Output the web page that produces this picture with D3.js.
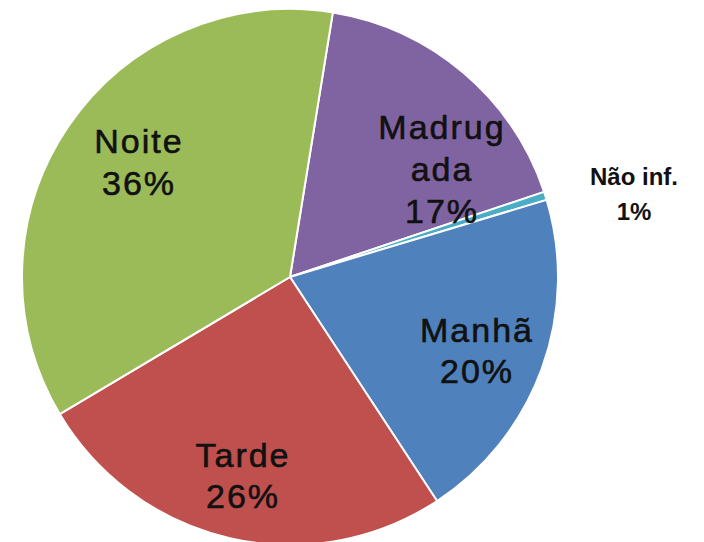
<!DOCTYPE html>
<html>
<head>
<meta charset="utf-8">
<script src="https://cdn.jsdelivr.net/npm/d3@7"></script>
<style>
  html, body { margin: 0; padding: 0; background: #ffffff; }
  svg { display: block; }
</style>
</head>
<body>
<div id="chart"></div>
<script>
// ---- data ----
const categories = ["Madrugada", "Não inf.", "Manhã", "Tarde", "Noite"];
const values = [17.3, 0.5, 20.4, 25.7, 36.1];
const labelLines = [["Madrug", "ada", "17%"], ["Não inf.", "1%"], ["Manhã", "20%"], ["Tarde", "26%"], ["Noite", "36%"]];
const colors = ["#8064A2", "#4BACC6", "#4F81BD", "#C0504D", "#9BBB59"];

// ---- layout ----
const W = 704, H = 542;
const cx = 290, cy = 277, R = 268;
const startDeg = 9.2;
// label anchor (x of centre, y of first baseline) and styling
const labelPos = [[442, 139], [634, 185], [477, 342], [243, 467], [139, 153]];
const labelStyle = [
  {size: 34, weight: "normal", gap: 42, ls: 2},
  {size: 24, weight: "bold", gap: 35, ls: 0},
  {size: 34, weight: "normal", gap: 41, ls: 2},
  {size: 34, weight: "normal", gap: 41, ls: 2},
  {size: 34, weight: "normal", gap: 42, ls: 2}
];

const svg = d3.select("#chart").append("svg").attr("width", W).attr("height", H);

const pie = d3.pie().sort(null).value(d => d.v)
  .startAngle(startDeg * Math.PI / 180)
  .endAngle((startDeg + 360) * Math.PI / 180);
const data = categories.map((c, i) => ({c, v: values[i], i}));
const arcs = pie(data);
const arc = d3.arc().innerRadius(0).outerRadius(R);

const g = svg.append("g").attr("transform", `translate(${cx},${cy})`);
g.selectAll("path").data(arcs).join("path")
  .attr("d", arc)
  .attr("fill", d => colors[d.data.i])
  .attr("stroke", "#ffffff")
  .attr("stroke-width", 2)
  .attr("stroke-linejoin", "round");

const lg = svg.append("g");
arcs.forEach(d => {
  const i = d.data.i;
  const st = labelStyle[i];
  const t = lg.append("text")
    .attr("text-anchor", "middle")
    .attr("font-family", "Liberation Sans, Arial, sans-serif")
    .attr("font-size", st.size)
    .attr("font-weight", st.weight)
    .attr("letter-spacing", st.ls)
    .attr("fill", "#111111")
    .attr("stroke", st.weight === "bold" ? "none" : "#111111")
    .attr("stroke-width", 0.6);
  labelLines[i].forEach((line, k) => {
    t.append("tspan")
      .attr("x", labelPos[i][0])
      .attr("y", labelPos[i][1] + k * st.gap)
      .text(line);
  });
});
</script>
</body>
</html>
